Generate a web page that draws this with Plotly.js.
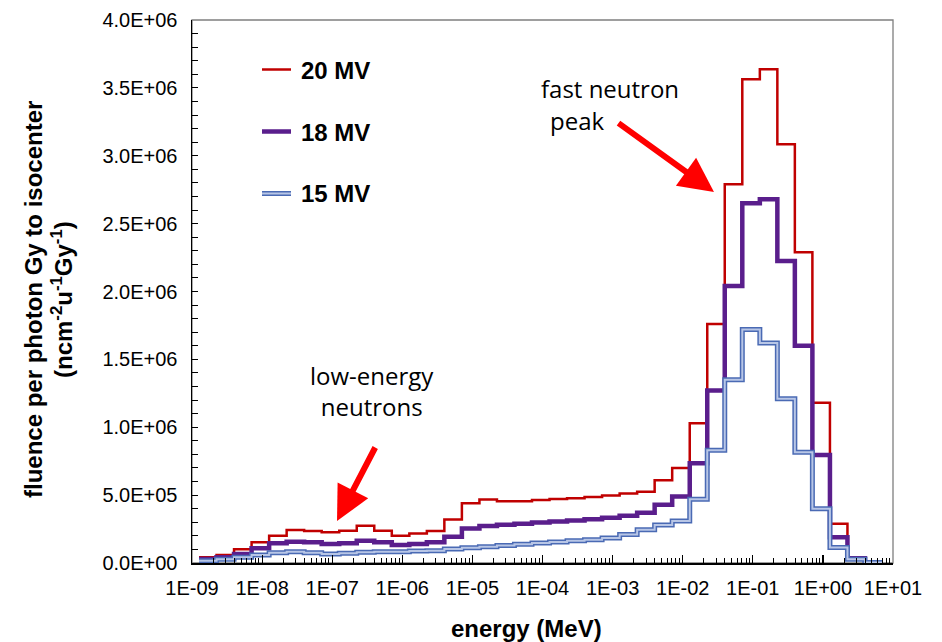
<!DOCTYPE html>
<html>
<head>
<meta charset="utf-8">
<script src="https://cdn.plot.ly/plotly-3.0.1.min.js"></script>
<style>
  html, body { margin: 0; padding: 0; background: #fff; }
  #chart { width: 942px; height: 642px; }
</style>
</head>
<body>
<div id="chart"></div>
<script>
// Energy bin edges (MeV), four bins per decade
const binEdges = [
  1.26e-9, 2.24e-9, 3.98e-9, 7.08e-9,
  1.26e-8, 2.24e-8, 3.98e-8, 7.08e-8,
  1.26e-7, 2.24e-7, 3.98e-7, 7.08e-7,
  1.26e-6, 2.24e-6, 3.98e-6, 7.08e-6,
  1.26e-5, 2.24e-5, 3.98e-5, 7.08e-5,
  1.26e-4, 2.24e-4, 3.98e-4, 7.08e-4,
  1.26e-3, 2.24e-3, 3.98e-3, 7.08e-3,
  1.26e-2, 2.24e-2, 3.98e-2, 7.08e-2,
  0.126, 0.224, 0.398, 0.708,
  1.26, 2.24, 3.98, 7.08
];

// Neutron fluence per photon Gy to isocenter, one value per bin
const fluence20MV = [
  41700, 58900, 100700, 152000, 201000, 243000, 235700, 226000, 238000, 275000,
  238000, 201000, 218000, 235700, 321000, 440000, 468000, 455000, 455000, 464000,
  472000, 477000, 486000, 498000, 512000, 525000, 610000, 700000, 1030000, 1760000,
  2790000, 3563000, 3637000, 3084000, 2289000, 1180000, 290000, 40000, 5000
];
const fluence18MV = [
  29000, 41700, 66000, 108000, 145000, 157000, 152000, 140000, 145000, 164000,
  152000, 133000, 140000, 152000, 194000, 255000, 272000, 282000, 290000, 298000,
  305000, 313000, 322000, 333000, 348000, 370000, 430000, 490000, 734000, 1270000,
  2040000, 2650000, 2680000, 2225000, 1600000, 795000, 190000, 35000, 3000
];
const fluence15MV = [
  17000, 27000, 42000, 59000, 76000, 83000, 76000, 66000, 71000, 79000,
  83000, 83000, 88000, 91000, 103000, 112000, 120000, 128000, 138000, 147000,
  155000, 163000, 172000, 185000, 210000, 245000, 280000, 310000, 470000, 830000,
  1350000, 1720000, 1620000, 1210000, 815000, 400000, 115000, 27000, 3000
];

const seriesNames = ['20 MV', '18 MV', '15 MV'];

const xTickVals = [1e-9, 1e-8, 1e-7, 1e-6, 1e-5, 1e-4, 1e-3, 1e-2, 1e-1, 1e0, 1e1];
const xTickText = ['1E-09', '1E-08', '1E-07', '1E-06', '1E-05', '1E-04', '1E-03', '1E-02', '1E-01', '1E+00', '1E+01'];
const yTickVals = [0, 5e5, 1e6, 1.5e6, 2e6, 2.5e6, 3e6, 3.5e6, 4e6];
const yTickText = ['0.0E+00', '5.0E+05', '1.0E+06', '1.5E+06', '2.0E+06', '2.5E+06', '3.0E+06', '3.5E+06', '4.0E+06'];

const RED = '#c00000';
const PURPLE = '#5a1e8c';
const BLUE_EDGE = '#4a6ab4';
const BLUE_CORE = '#b8c6e6';

// histogram outline: repeat the last bin value so the final step closes at its edge
function stepY(values) {
  return values.concat([values[values.length - 1]]);
}

function stepTrace(values, name, color, width) {
  return {
    type: 'scatter', mode: 'lines',
    x: binEdges, y: stepY(values), name: name,
    line: { shape: 'hv', color: color, width: width },
    hoverinfo: 'x+y+name', showlegend: false
  };
}

const traces = [
  stepTrace(fluence20MV, seriesNames[0], RED, 2.5),
  stepTrace(fluence18MV, seriesNames[1], PURPLE, 4.5),
  stepTrace(fluence15MV, seriesNames[2], BLUE_EDGE, 5),
  stepTrace(fluence15MV, seriesNames[2], BLUE_CORE, 2)
];

// plot frame in pixels -> paper coordinates
const M = { l: 192, r: 49, t: 20, b: 79 };
const W = 942 - M.l - M.r, H = 642 - M.t - M.b;
const px = X => (X - M.l) / W;
const py = Y => (642 - M.b - Y) / H;

const boldFont = { family: 'Liberation Sans, Arial, sans-serif', size: 24, color: '#000', weight: 'bold' };
const noteFont = { family: 'Open Sans, sans-serif', size: 24, color: '#000' };

const annotations = [
  // axis titles
  { xref: 'paper', yref: 'paper', x: px(526), y: py(628), text: '<b>energy (MeV)</b>',
    showarrow: false, font: boldFont, xanchor: 'center', yanchor: 'middle' },
  { xref: 'paper', yref: 'paper', x: px(33), y: py(300), text: '<b>fluence per photon Gy to isocenter</b>',
    showarrow: false, font: boldFont, textangle: -90, xanchor: 'center', yanchor: 'middle' },
  { xref: 'paper', yref: 'paper', x: px(62), y: py(300),
    text: '<b>(ncm<sup>-2</sup>u<sup>-1</sup>Gy<sup>-1</sup>)</b>',
    showarrow: false, font: boldFont, textangle: -90, xanchor: 'center', yanchor: 'middle' },
  // legend labels
  { xref: 'paper', yref: 'paper', x: px(299), y: py(70), text: '<b>' + seriesNames[0] + '</b>',
    showarrow: false, font: boldFont, xanchor: 'left', yanchor: 'middle' },
  { xref: 'paper', yref: 'paper', x: px(299), y: py(132), text: '<b>' + seriesNames[1] + '</b>',
    showarrow: false, font: boldFont, xanchor: 'left', yanchor: 'middle' },
  { xref: 'paper', yref: 'paper', x: px(299), y: py(194), text: '<b>' + seriesNames[2] + '</b>',
    showarrow: false, font: boldFont, xanchor: 'left', yanchor: 'middle' },
  // notes
  { xref: 'paper', yref: 'paper', x: px(372), y: py(391), text: 'low-energy<br>neutrons',
    showarrow: false, font: noteFont, xanchor: 'center', yanchor: 'middle' },
  { xref: 'paper', yref: 'paper', x: px(610), y: py(88), text: 'fast neutron',
    showarrow: false, font: noteFont, xanchor: 'center', yanchor: 'middle' },
  { xref: 'paper', yref: 'paper', x: px(577), y: py(121), text: 'peak',
    showarrow: false, font: noteFont, xanchor: 'center', yanchor: 'middle' },
  // arrows
  { xref: 'paper', yref: 'paper', x: px(337), y: py(521), ax: 39, ay: -75, text: '',
    showarrow: true, arrowhead: 2, arrowsize: 1.15, arrowwidth: 6, arrowcolor: '#ff0000' },
  { xref: 'paper', yref: 'paper', x: px(714), y: py(192), ax: -97, ay: -70, text: '',
    showarrow: true, arrowhead: 2, arrowsize: 1.15, arrowwidth: 6, arrowcolor: '#ff0000' }
];

const legendLine = (Y, color, width) => ({
  type: 'line', xref: 'paper', yref: 'paper',
  x0: px(262), x1: px(291), y0: py(Y), y1: py(Y),
  line: { color: color, width: width }
});

const shapes = [
  { type: 'rect', xref: 'paper', yref: 'paper', x0: 0, x1: 1, y0: 0, y1: 1,
    line: { color: '#7f7f7f', width: 1.3 }, layer: 'below' },
  legendLine(69.5, RED, 2.5),
  legendLine(131.5, PURPLE, 4.5),
  legendLine(193.5, BLUE_EDGE, 5),
  legendLine(193.5, BLUE_CORE, 2)
];

const tickFont = { family: 'Liberation Sans, Arial, sans-serif', size: 20, color: '#000' };

const layout = {
  width: 942, height: 642,
  margin: M,
  paper_bgcolor: '#fff', plot_bgcolor: '#fff',
  showlegend: false,
  xaxis: {
    type: 'log', range: [-9, 1],
    tickvals: xTickVals, ticktext: xTickText,
    ticks: 'inside', ticklen: 8, tickwidth: 1.2, tickcolor: '#000',
    minor: { ticks: 'inside', ticklen: 5, tickwidth: 1, tickcolor: '#000', dtick: 'D1', showgrid: false },
    showline: true, linecolor: '#000', linewidth: 1.5,
    showgrid: false, zeroline: false,
    tickfont: tickFont, ticklabelstandoff: 6
  },
  yaxis: {
    range: [0, 4e6],
    tickvals: yTickVals, ticktext: yTickText,
    ticks: 'inside', ticklen: 6, tickwidth: 1.2, tickcolor: '#000',
    minor: { ticks: 'inside', ticklen: 6, tickwidth: 1, tickcolor: '#000', dtick: 1e5, showgrid: false },
    showline: true, linecolor: '#000', linewidth: 1.5,
    showgrid: false, zeroline: false,
    tickfont: tickFont, ticklabelstandoff: 9
  },
  annotations: annotations,
  shapes: shapes
};

Plotly.newPlot('chart', traces, layout, { staticPlot: true, displayModeBar: false });
</script>
</body>
</html>
